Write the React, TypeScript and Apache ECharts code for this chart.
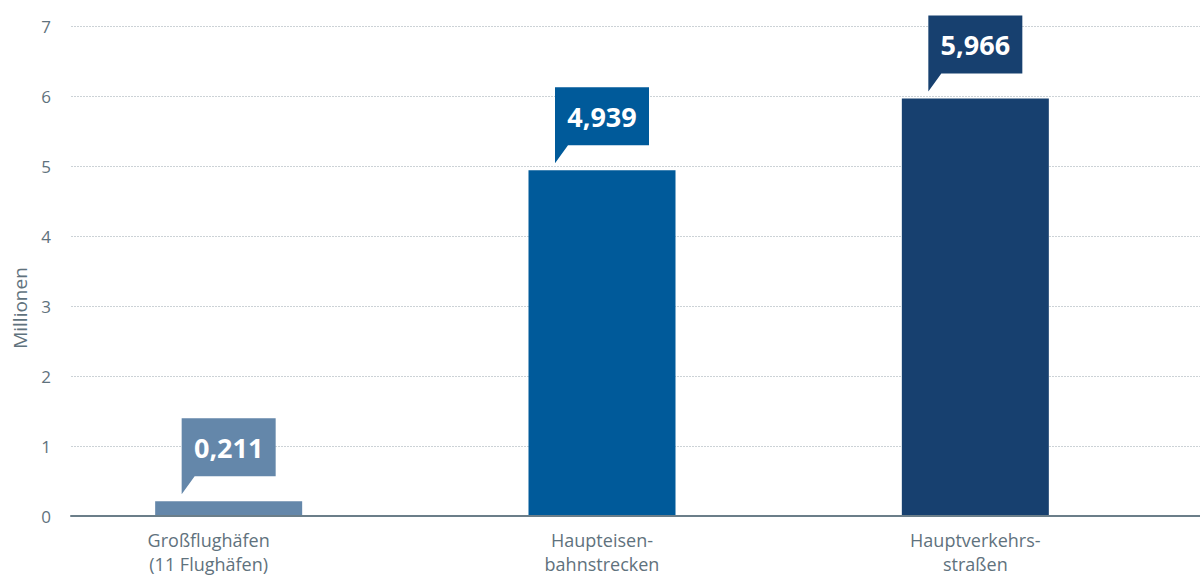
import React, { useEffect, useRef } from "react";
import * as echarts from "echarts";

// ---- data ----
const categories = [
  "Großflughäfen\n(11 Flughäfen)",
  "Haupteisen-\nbahnstrecken",
  "Hauptverkehrs-\nstraßen",
];
const values = [0.211, 4.939, 5.966];
const yMin = 0;
const yMax = 7;
const yInterval = 1;
const axisTitle = "Millionen";

// ---- styles ----
const BAR_COLORS = ["#6487aa", "#005a9a", "#17406f"];
const TEXT_GRAY = "#5f727d";
const AXIS_GRAY = "#6b7e89";
const FONT = '"Open Sans", "Noto Sans", sans-serif';

const fmt = (v: number) => v.toFixed(3).replace(".", ",");

export default function App() {
  const ref = useRef<HTMLDivElement>(null);

  useEffect(() => {
    if (!ref.current) return;
    const chart = echarts.init(ref.current, undefined, { renderer: "svg" });

    const top = 26;
    const bottom = 65;

    const option: any = {
      animation: false,
      backgroundColor: "#ffffff",
      grid: [
        { left: 71, right: 0, top, bottom },
        { left: 42, right: 38, top, bottom },
      ],
      graphic: [
        {
          type: "text",
          x: 20,
          y: 308,
          rotation: Math.PI / 2,
          style: {
            text: axisTitle,
            fill: TEXT_GRAY,
            font: `19px ${FONT}`,
            align: "center",
            verticalAlign: "middle",
          },
        },
      ],
      xAxis: [
        {
          type: "category",
          gridIndex: 0,
          data: categories,
          axisLine: { show: true, lineStyle: { color: AXIS_GRAY, width: 2 } },
          axisTick: { show: false },
          axisLabel: { show: false },
          splitLine: { show: false },
          z: 10,
        },
        {
          type: "category",
          gridIndex: 1,
          data: categories.map((c, i) =>
            i === 0
              ? { value: c, textStyle: { padding: [0, 40, 0, 0] } }
              : { value: c }
          ),
          axisLine: { show: false },
          axisTick: { show: false },
          axisLabel: {
            color: TEXT_GRAY,
            fontSize: 18,
            lineHeight: 24,
            fontFamily: FONT,
            margin: 12,
            interval: 0,
          },
        },
      ],
      yAxis: [
        {
          type: "value",
          gridIndex: 0,
          min: yMin,
          max: yMax,
          interval: yInterval,
          axisLine: { show: false },
          axisTick: { show: false },
          axisLabel: {
            color: TEXT_GRAY,
            fontSize: 17,
            fontFamily: FONT,
            margin: 20,
          },
          splitLine: {
            show: true,
            lineStyle: { color: "#ccd2d6", type: [2, 1], width: 1 },
          },
        },
        {
          type: "value",
          gridIndex: 1,
          min: yMin,
          max: yMax,
          interval: yInterval,
          show: false,
          splitLine: { show: false },
        },
      ],
      series: [
        {
          type: "bar",
          xAxisIndex: 1,
          yAxisIndex: 1,
          barWidth: 147,
          data: values.map((v, i) => ({
            value: v,
            itemStyle: { color: BAR_COLORS[i] },
          })),
          z: 2,
        },
        {
          type: "custom",
          xAxisIndex: 1,
          yAxisIndex: 1,
          clip: false,
          z: 5,
          data: values.map((v, i) => [i, v]),
          renderItem: (params: any, api: any) => {
            const idx = api.value(0);
            const v = api.value(1);
            const [cx, cy] = api.coord([idx, v]);
            const w = 94;
            const h = 58;
            const gap = 7;
            const tail = 18;
            const L = cx - w / 2;
            const B = cy - gap - tail;
            const T = B - h;
            const color = BAR_COLORS[params.dataIndex];
            return {
              type: "group",
              children: [
                {
                  type: "polygon",
                  shape: {
                    points: [
                      [L, T],
                      [L + w, T],
                      [L + w, B],
                      [L + 13, B],
                      [L, B + tail],
                    ],
                  },
                  style: { fill: color },
                },
                {
                  type: "text",
                  x: cx,
                  y: T + h / 2,
                  style: {
                    text: fmt(v),
                    fill: "#ffffff",
                    font: `bold 27px ${FONT}`,
                    align: "center",
                    verticalAlign: "middle",
                  },
                },
              ],
            };
          },
        },
      ],
    };

    chart.setOption(option);
    return () => chart.dispose();
  }, []);

  return (
    <div
      ref={ref}
      style={{ width: 1200, height: 581, position: "absolute", left: 0, top: 0 }}
    />
  );
}
